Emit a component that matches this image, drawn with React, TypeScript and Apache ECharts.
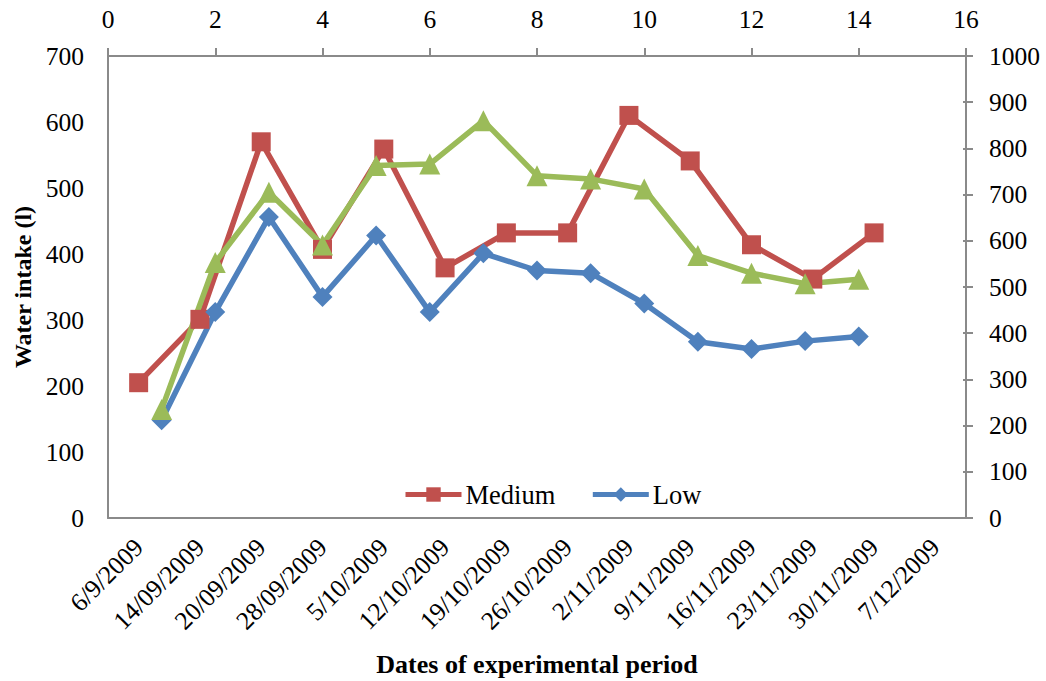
import React, { useEffect, useRef } from "react";
import * as echarts from "echarts";

const dates = [
  "6/9/2009", "14/09/2009", "20/09/2009", "28/09/2009", "5/10/2009", "12/10/2009", "19/10/2009",
  "26/10/2009", "2/11/2009", "9/11/2009", "16/11/2009", "23/11/2009", "30/11/2009", "7/12/2009",
];
const medium = [205, 301, 570, 407, 559, 379, 432, 432, 610, 541, 414, 362, 432, null];
const weekIndex = [1, 2, 3, 4, 5, 6, 7, 8, 9, 10, 11, 12, 13, 14];
const low = [148, 312, 456, 335, 428, 312, 401, 375, 371, 325, 267, 256, 268, 275];
const third = [235, 553, 705, 591, 763, 766, 860, 741, 734, 712, 568, 530, 507, 517];

const FONT = "'Liberation Serif', 'Times New Roman', serif";
const AXIS = "#8a8a8a";
const RED = "#C0504D";
const BLUE = "#4F81BD";
const GREEN = "#9BBB59";

export default function App() {
  const ref = useRef<HTMLDivElement>(null);
  useEffect(() => {
    document.body.style.margin = "0";
    const chart = echarts.init(ref.current!, null, { renderer: "svg" });
    const axisLine = { show: true, onZero: false, lineStyle: { color: AXIS, width: 2 } };
    const label = { color: "#000", fontFamily: FONT, fontSize: 25.5 };
    chart.setOption({
      animation: false,
      backgroundColor: "#fff",
      grid: {
        left: 108, right: 80, top: 56, bottom: 163,
        containLabel: false, outerBoundsMode: "none",
      },
      legend: {
        data: ["Medium", "Low"],
        left: 403,
        top: 481,
        padding: 0,
        itemWidth: 56,
        itemHeight: 18,
        itemGap: 35,
        lineStyle: { width: 5 },
        textStyle: { color: "#000", fontFamily: FONT, fontSize: 26.5, padding: [0, 0, 0, -1] },
      },
      xAxis: [
        {
          type: "category",
          position: "bottom",
          data: dates,
          boundaryGap: true,
          axisLine,
          axisTick: { show: false },
          splitLine: { show: false },
          axisLabel: { ...label, rotate: 45, margin: 25, interval: 0 },
          name: "Dates of experimental period",
          nameLocation: "middle",
          nameGap: 133,
          nameTextStyle: { color: "#000", fontFamily: FONT, fontSize: 26, fontWeight: "bold" },
        },
        {
          type: "value",
          position: "top",
          min: 0,
          max: 16,
          interval: 2,
          axisLine,
          axisTick: { show: true, inside: false, length: 8, lineStyle: { color: AXIS, width: 2 } },
          splitLine: { show: false },
          axisLabel: { ...label, margin: 24 },
        },
      ],
      yAxis: [
        {
          type: "value",
          position: "left",
          min: 0,
          max: 700,
          interval: 100,
          axisLine,
          axisTick: { show: false },
          splitLine: { show: false },
          axisLabel: { ...label, margin: 24 },
          name: "Water intake (l)",
          nameLocation: "middle",
          nameGap: 72,
          nameRotate: 90,
          nameTextStyle: { color: "#000", fontFamily: FONT, fontSize: 24, fontWeight: "bold" },
        },
        {
          type: "value",
          position: "right",
          min: 0,
          max: 1000,
          interval: 100,
          axisLine,
          axisTick: { show: true, inside: false, length: 7, lineStyle: { color: AXIS, width: 2 } },
          splitLine: { show: false },
          axisLabel: { ...label, margin: 23, formatter: (v: number) => String(v) },
        },
        {
          type: "value",
          position: "right",
          min: 0,
          max: 1000,
          interval: 100,
          axisLine: { show: false, onZero: false },
          axisTick: { show: true, inside: true, length: 3, lineStyle: { color: AXIS, width: 2 } },
          splitLine: { show: false },
          axisLabel: { show: false },
        },
      ],
      series: [
        {
          name: "Medium",
          type: "line",
          xAxisIndex: 0,
          yAxisIndex: 0,
          data: medium,
          symbol: "rect",
          symbolSize: 19,
          itemStyle: { color: RED },
          lineStyle: { color: RED, width: 5.5 },
        },
        {
          name: "Low",
          type: "line",
          xAxisIndex: 1,
          yAxisIndex: 0,
          data: weekIndex.map((x, i) => [x, low[i]]),
          symbol: "diamond",
          symbolSize: 20,
          itemStyle: { color: BLUE },
          lineStyle: { color: BLUE, width: 5.5 },
        },
        {
          name: "High",
          type: "line",
          xAxisIndex: 1,
          yAxisIndex: 1,
          data: weekIndex.map((x, i) => [x, third[i]]),
          symbol: "triangle",
          symbolSize: 21,
          itemStyle: { color: GREEN },
          lineStyle: { color: GREEN, width: 5.5 },
        },
      ],
    });
    return () => chart.dispose();
  }, []);
  return <div ref={ref} style={{ width: 1046, height: 681 }} />;
}
